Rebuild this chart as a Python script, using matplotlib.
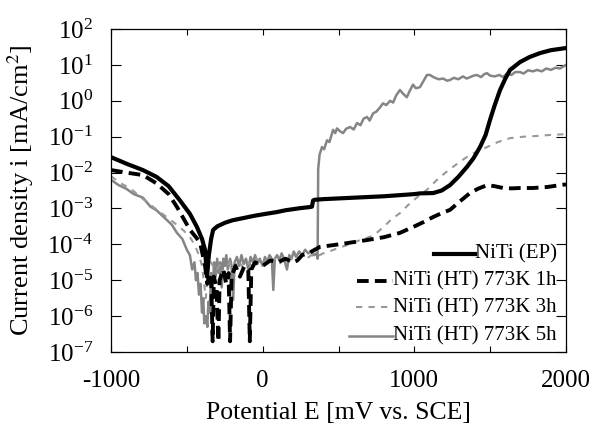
import numpy as np
import matplotlib
matplotlib.use("Agg")
import matplotlib.pyplot as plt
from matplotlib.ticker import FixedLocator, NullLocator, LogFormatterMathtext

plt.rcParams['font.family'] = ['Liberation Serif', 'DejaVu Serif']
plt.rcParams['mathtext.fontset'] = 'stix'
plt.rcParams['axes.unicode_minus'] = False

# Potential E [mV vs. SCE] and log10 of current density [mA/cm2]
ep_E = [-1000, -900, -790, -700, -620, -545, -480, -433, -400, -380, -367, -355, -340,
        -327, -300, -250, -200, -130, -50, 20, 94, 150, 200, 250, 312, 325, 332, 340,
        400, 500, 600, 700, 800, 900, 1000, 1037, 1125, 1180, 1235, 1290, 1347, 1390,
        1433, 1470, 1499, 1530, 1565, 1600, 1631, 1697, 1760, 1829, 1900, 2000]
ep_logi = [-1.57, -1.75, -1.93, -2.12, -2.38, -2.78, -3.15, -3.52, -3.85, -4.16, -4.9,
           -4.3, -3.85, -3.6, -3.5, -3.4, -3.33, -3.27, -3.2, -3.15, -3.1, -3.05, -3.02,
           -2.99, -2.96, -2.95, -2.78, -2.76, -2.74, -2.72, -2.7, -2.68, -2.66, -2.63,
           -2.6, -2.58, -2.57, -2.5, -2.35, -2.12, -1.84, -1.6, -1.29, -0.95, -0.53,
           -0.12, 0.30, 0.62, 0.86, 1.08, 1.22, 1.33, 1.41, 1.47]

h1_E = [-1000, -900, -789, -700, -620, -565, -479, -440, -413, -395, -380, -365, -350,
        -340, -330, -322, -305, -292, -284, -260, -240, -225, -215, -205, -180, -150,
        -120, -95, -85, -75, -50, 0, 50, 100, 150, 200, 228, 260, 300, 378, 450, 550,
        688, 800, 905, 1000, 1060, 1123, 1180, 1235, 1301, 1367, 1420, 1479, 1530,
        1585, 1640, 1697, 1782, 1880, 1960, 2000]
h1_logi = [-1.93, -2.0, -2.07, -2.3, -2.6, -2.96, -3.6, -3.8, -3.96, -4.3, -4.6, -5.1,
           -4.8, -4.9, -6.7, -4.9, -5.2, -6.7, -5.0, -4.7, -5.1, -4.8, -6.7, -4.9, -4.6,
           -4.9, -4.6, -4.7, -6.7, -4.7, -4.5, -4.6, -4.45, -4.5, -4.4, -4.5, -4.45,
           -4.3, -4.25, -4.07, -4.03, -3.97, -3.88, -3.8, -3.68, -3.5, -3.38, -3.24,
           -3.13, -3.04, -2.8, -2.57, -2.45, -2.35, -2.38, -2.43, -2.44, -2.43, -2.43,
           -2.4, -2.35, -2.33]

h3_E = [-1000, -940, -870, -800, -740, -677, -620, -565, -520, -480, -450, -420, -400,
        -375, -360, -340, -310, -280, -250, -220, -190, -160, -130, -100, -70, -40, -10,
        20, 50, 80, 110, 140, 170, 200, 230, 260, 290, 320, 350, 400, 450, 500, 570,
        642, 708, 752, 800, 850, 905, 960, 1037, 1083, 1150, 1200, 1255, 1310, 1367,
        1420, 1479, 1550, 1631, 1720, 1809, 1900, 2000]
h3_logi = [-2.1, -2.29, -2.45, -2.7, -2.9, -3.1, -3.28, -3.46, -3.62, -3.8, -4.0, -4.3,
           -4.6, -5.5, -4.7, -4.5, -4.75, -4.55, -4.8, -4.5, -4.7, -4.45, -4.65, -4.5,
           -4.6, -4.4, -4.6, -4.45, -4.55, -4.4, -4.55, -4.4, -4.5, -4.35, -4.45, -4.35,
           -4.4, -4.3, -4.35, -4.25, -4.18, -4.1, -4.0, -3.88, -3.79, -3.68, -3.5, -3.3,
           -3.13, -2.9, -2.62, -2.48, -2.2, -2.02, -1.84, -1.67, -1.51, -1.4, -1.29,
           -1.15, -1.04, -1.0, -0.98, -0.95, -0.93]

h5_E = [-1000, -950, -900, -850, -789, -740, -700, -650, -600, -565, -530, -499, -480,
        -465, -450, -440, -430, -420, -410, -400, -392, -385, -375, -365, -358, -350,
        -340, -330, -320, -310, -300, -290, -280, -270, -260, -250, -240, -230, -215,
        -205, -195, -185, -170, -155, -140, -125, -110, -95, -80, -65, -50, -35, -20,
        0, 15, 30, 45, 60, 70, 80, 95, 110, 125, 140, 160, 175, 190, 205, 220, 240,
        260, 280, 300, 320, 340, 355, 362, 366, 375, 391, 405, 424, 440, 464, 478,
        490, 510, 530, 550, 576, 600, 622, 645, 665, 688, 705, 728, 750, 770, 794,
        815, 840, 860, 880, 905, 925, 950, 970, 991, 1010, 1037, 1060, 1083, 1103,
        1130, 1160, 1190, 1215, 1235, 1260, 1290, 1320, 1345, 1367, 1390, 1413, 1440,
        1460, 1479, 1500, 1530, 1560, 1585, 1610, 1640, 1665, 1697, 1720, 1750, 1780,
        1809, 1840, 1870, 1900, 1930, 1960, 2000]
h5_logi = [-2.2, -2.35, -2.45, -2.6, -2.7, -2.95, -3.05, -3.25, -3.45, -3.68, -3.85,
           -4.16, -4.3, -4.7, -4.5, -5.0, -4.8, -5.4, -5.1, -5.9, -5.5, -6.2, -6.0,
           -6.3, -5.6, -5.9, -4.8, -5.2, -4.5, -4.9, -4.4, -4.8, -4.5, -5.2, -4.4,
           -4.6, -4.3, -4.7, -4.4, -4.6, -5.55, -4.5, -4.35, -4.6, -4.3, -4.55, -4.4,
           -4.7, -4.35, -4.5, -4.3, -4.55, -4.4, -4.6, -4.35, -4.5, -4.3, -4.4, -5.27,
           -4.4, -4.3, -4.45, -4.25, -4.4, -4.7, -4.3, -4.4, -4.2, -4.35, -4.2, -4.3,
           -4.15, -4.25, -4.2, -4.3, -4.25, -4.4, -1.9, -1.5, -1.29, -1.35, -1.1, -1.15,
           -0.81, -0.9, -0.77, -0.85, -0.9, -0.78, -0.73, -0.8, -0.62, -0.68, -0.5,
           -0.45, -0.55, -0.35, -0.3, -0.2, -0.07, -0.12, 0.0, -0.05, 0.15, 0.3, 0.2,
           0.1, 0.28, 0.45, 0.35, 0.38, 0.55, 0.72, 0.72, 0.65, 0.6, 0.62, 0.56, 0.58,
           0.64, 0.6, 0.68, 0.62, 0.66, 0.7, 0.72, 0.66, 0.74, 0.77, 0.7, 0.68, 0.72,
           0.66, 0.76, 0.72, 0.8, 0.80, 0.76, 0.85, 0.82, 0.86, 0.82, 0.9, 0.86, 0.92,
           0.9, 1.0]

labels = ["NiTi (EP)", "NiTi (HT) 773K 1h", "NiTi (HT) 773K 3h", "NiTi (HT) 773K 5h"]
x_ticks = [-1000, 0, 1000, 2000]

fig = plt.figure(figsize=(5.95, 4.33), dpi=100)
ax = fig.add_axes([0.1866, 0.187, 0.7647, 0.746])

styles = [
    dict(color='black', lw=3.0, ls='-'),
    dict(color='black', lw=2.8, dashes=(3, 1.6)),
    dict(color='#999999', lw=1.5, dashes=(3, 3)),
    dict(color='#858585', lw=1.8, ls='-'),
]
series = [(ep_E, ep_logi), (h1_E, h1_logi), (h3_E, h3_logi), (h5_E, h5_logi)]

# draw grey curves first so the black ones stay on top
for idx in [3, 2, 1, 0]:
    E, li = series[idx]
    ax.plot(E, 10.0 ** np.array(li), **styles[idx])

ax.set_yscale('log')
ax.set_xlim(-1000, 2000)
ax.set_ylim(1e-7, 1e2)
ax.yaxis.set_major_locator(FixedLocator([10.0 ** k for k in range(-7, 3)]))
ax.yaxis.set_major_formatter(LogFormatterMathtext())
ax.yaxis.set_minor_locator(NullLocator())
ax.set_xticks(x_ticks)
ax.xaxis.set_minor_locator(FixedLocator([-500, 500, 1500]))

ax.tick_params(axis='both', which='both', direction='in', top=True, right=True,
               labelsize=18, pad=13, width=0.8)
ax.tick_params(axis='y', which='major', length=7)
ax.tick_params(axis='x', which='both', length=4)
for sp in ax.spines.values():
    sp.set_linewidth(0.9)

ax.set_xlabel('Potential E [mV vs. SCE]', fontsize=18.5, labelpad=7)
ax.set_ylabel('Current density i [mA/cm$^2$]', fontsize=19, labelpad=8)

# hand-made legend: text flush right, line segment just left of the text
leg_y = [0.305, 0.220, 0.138, 0.050]
leg_len = [0.09, 0.079, 0.081, 0.097]
texts = []
for i, lab in enumerate(labels):
    t = ax.text(0.98, leg_y[i], lab, transform=ax.transAxes, ha='right', va='center',
                fontsize=15)
    texts.append(t)
fig.canvas.draw()
inv = ax.transAxes.inverted()
for i, t in enumerate(texts):
    bb = t.get_window_extent()
    x0 = inv.transform((bb.x0, bb.y0))[0]
    ax.plot([x0 - leg_len[i], x0], [leg_y[i], leg_y[i]], transform=ax.transAxes,
            clip_on=False, **styles[i])

fig.savefig('out.png', dpi=100)
